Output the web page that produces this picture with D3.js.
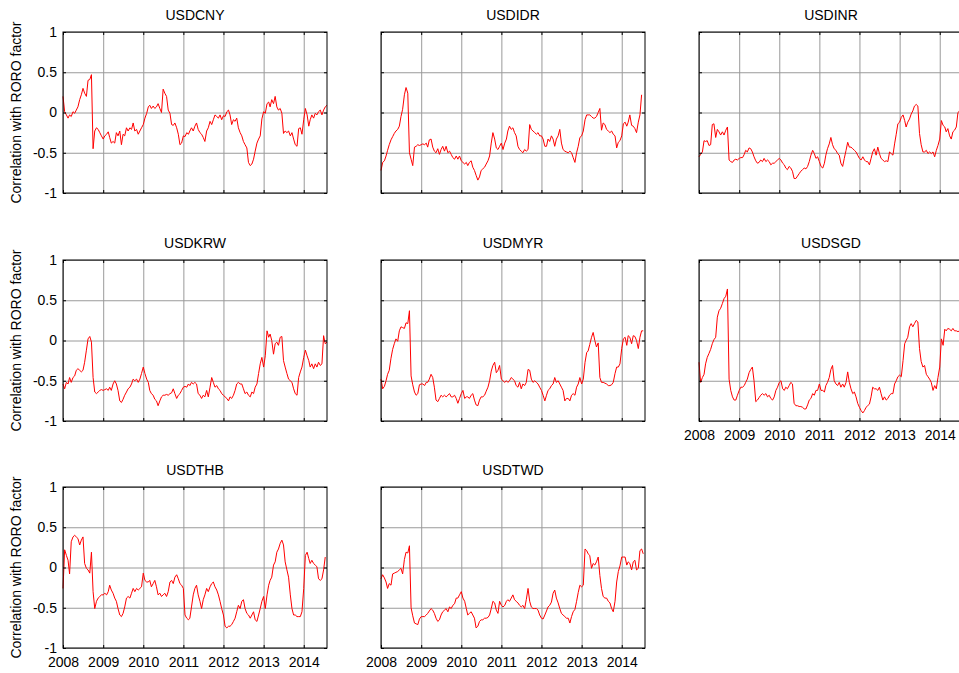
<!DOCTYPE html>
<html>
<head>
<meta charset="utf-8">
<script src="https://cdn.jsdelivr.net/npm/d3@7"></script>
<style>
  body { margin: 0; background: #fff; }
  svg { display: block; }
  text { font-family: Arial, "Liberation Sans", Helvetica, sans-serif; fill: #000; }
</style>
</head>
<body>
<svg id="chart" width="959" height="673"></svg>
<script>
// Rolling correlation of Asian USD crosses with the risk-on/risk-off factor,
// sampled on the 1st and 16th of every month from January 2008.
const currencies = ["USDCNY", "USDIDR", "USDINR", "USDKRW", "USDMYR", "USDSGD", "USDTHB", "USDTWD"];
const yearTicks = [2008, 2009, 2010, 2011, 2012, 2013, 2014];
const corrTicks = [-1, -0.5, 0, 0.5, 1];
const corrTickLabels = ["-1", "-0.5", "0", "0.5", "1"];
const yAxisTitle = "Correlation with RORO factor";

const usdcny = [
  0.20, 0.01, -0.03, -0.07, -0.03, -0.05, 0.01, -0.01, 0.03, 0.07,
  0.16, 0.22, 0.30, 0.24, 0.20, 0.40, 0.41, 0.47, -0.45, -0.23,
  -0.19, -0.21, -0.25, -0.29, -0.33, -0.29, -0.27, -0.24, -0.31, -0.38,
  -0.36, -0.38, -0.25, -0.29, -0.23, -0.40, -0.27, -0.29, -0.19, -0.23,
  -0.19, -0.21, -0.13, -0.23, -0.21, -0.27, -0.23, -0.19, -0.15, -0.07,
  -0.01, 0.07, 0.09, 0.05, 0.08, 0.05, 0.07, 0.11, 0.05, 0.00,
  0.29, 0.24, 0.20, 0.03, -0.01, -0.15, -0.16, -0.13, -0.19, -0.27,
  -0.40, -0.38, -0.29, -0.30, -0.25, -0.27, -0.23, -0.19, -0.23, -0.17,
  -0.13, -0.21, -0.25, -0.27, -0.31, -0.36, -0.23, -0.19, -0.11, -0.15,
  -0.09, -0.03, -0.05, -0.07, -0.03, -0.09, -0.04, -0.05, 0.01, 0.03,
  -0.03, -0.15, -0.09, -0.11, -0.07, -0.19, -0.25, -0.29, -0.36, -0.40,
  -0.44, -0.62, -0.66, -0.64, -0.58, -0.48, -0.38, -0.33, -0.29, -0.08,
  0.01, -0.01, 0.11, 0.13, 0.07, 0.16, 0.11, 0.20, 0.07, 0.03,
  0.05, -0.01, -0.26, -0.23, -0.25, -0.23, -0.29, -0.25, -0.33, -0.40,
  -0.42, -0.20, -0.19, -0.27, -0.09, 0.05, -0.03, -0.17, -0.09, -0.03,
  -0.07, -0.01, -0.03, 0.01, 0.03, -0.03, 0.03, 0.07, 0.09
];

const usdidr = [
  -0.72, -0.62, -0.60, -0.54, -0.47, -0.40, -0.34, -0.30, -0.26, -0.23,
  -0.21, -0.17, -0.05, 0.04, 0.22, 0.31, 0.24, -0.50, -0.58, -0.66,
  -0.43, -0.42, -0.40, -0.41, -0.40, -0.39, -0.40, -0.38, -0.43, -0.34,
  -0.33, -0.43, -0.48, -0.50, -0.45, -0.52, -0.46, -0.42, -0.48, -0.42,
  -0.50, -0.48, -0.52, -0.56, -0.58, -0.54, -0.58, -0.54, -0.60, -0.62,
  -0.64, -0.62, -0.66, -0.62, -0.60, -0.68, -0.72, -0.78, -0.84, -0.80,
  -0.72, -0.70, -0.68, -0.64, -0.60, -0.54, -0.38, -0.25, -0.33, -0.44,
  -0.46, -0.42, -0.38, -0.46, -0.38, -0.33, -0.23, -0.17, -0.21, -0.19,
  -0.25, -0.29, -0.42, -0.46, -0.48, -0.50, -0.46, -0.48, -0.46, -0.15,
  -0.21, -0.23, -0.25, -0.27, -0.25, -0.29, -0.29, -0.33, -0.42, -0.42,
  -0.33, -0.36, -0.29, -0.33, -0.42, -0.33, -0.29, -0.21, -0.38, -0.46,
  -0.48, -0.49, -0.50, -0.48, -0.50, -0.56, -0.62, -0.50, -0.42, -0.31,
  -0.29, -0.23, -0.09, -0.03, -0.03, -0.03, -0.05, -0.07, -0.07, -0.05,
  0.00, 0.05, -0.22, -0.13, -0.15, -0.21, -0.23, -0.25, -0.23, -0.27,
  -0.29, -0.44, -0.37, -0.35, -0.29, -0.14, -0.12, -0.17, -0.12, -0.03,
  -0.16, -0.17, -0.20, -0.25, -0.12, -0.03, 0.22
];

const usdinr = [
  -0.55, -0.52, -0.49, -0.35, -0.36, -0.35, -0.41, -0.40, -0.15, -0.14,
  -0.31, -0.21, -0.24, -0.28, -0.24, -0.28, -0.22, -0.18, -0.59, -0.61,
  -0.62, -0.59, -0.58, -0.59, -0.57, -0.56, -0.56, -0.52, -0.47, -0.49,
  -0.44, -0.45, -0.49, -0.55, -0.60, -0.63, -0.62, -0.59, -0.61, -0.57,
  -0.61, -0.59, -0.61, -0.65, -0.63, -0.63, -0.61, -0.59, -0.57, -0.59,
  -0.63, -0.65, -0.69, -0.71, -0.67, -0.69, -0.73, -0.82, -0.82, -0.79,
  -0.76, -0.73, -0.71, -0.69, -0.70, -0.67, -0.61, -0.53, -0.47, -0.51,
  -0.57, -0.55, -0.61, -0.67, -0.69, -0.63, -0.53, -0.45, -0.39, -0.31,
  -0.40, -0.45, -0.47, -0.51, -0.53, -0.63, -0.67, -0.57, -0.47, -0.37,
  -0.43, -0.43, -0.45, -0.47, -0.49, -0.53, -0.57, -0.59, -0.55, -0.59,
  -0.61, -0.61, -0.65, -0.57, -0.49, -0.45, -0.53, -0.43, -0.51, -0.57,
  -0.59, -0.61, -0.60, -0.61, -0.49, -0.51, -0.53, -0.39, -0.27, -0.14,
  -0.12, -0.06, -0.03, -0.10, -0.18, -0.12, -0.08, -0.02, 0.02, 0.08,
  0.10, 0.08, -0.26, -0.40, -0.49, -0.49, -0.47, -0.51, -0.49, -0.51,
  -0.49, -0.55, -0.47, -0.41, -0.33, -0.10, -0.16, -0.18, -0.24, -0.20,
  -0.29, -0.33, -0.24, -0.22, -0.18, 0.00, 0.02, 0.00, 0.01
];

const usdkrw = [
  -0.54, -0.60, -0.52, -0.54, -0.46, -0.52, -0.46, -0.44, -0.37, -0.35,
  -0.37, -0.39, -0.37, -0.27, -0.12, 0.02, 0.05, -0.02, -0.46, -0.64,
  -0.66, -0.64, -0.62, -0.61, -0.62, -0.61, -0.60, -0.62, -0.58, -0.62,
  -0.54, -0.50, -0.54, -0.62, -0.75, -0.77, -0.73, -0.68, -0.64, -0.60,
  -0.58, -0.54, -0.48, -0.50, -0.48, -0.52, -0.48, -0.41, -0.33, -0.41,
  -0.48, -0.52, -0.62, -0.66, -0.68, -0.73, -0.75, -0.81, -0.75, -0.70,
  -0.68, -0.68, -0.67, -0.68, -0.66, -0.65, -0.60, -0.66, -0.72, -0.68,
  -0.66, -0.62, -0.58, -0.57, -0.58, -0.54, -0.56, -0.52, -0.54, -0.52,
  -0.54, -0.66, -0.68, -0.72, -0.68, -0.70, -0.62, -0.70, -0.58, -0.46,
  -0.52, -0.58, -0.56, -0.60, -0.62, -0.66, -0.68, -0.70, -0.72, -0.75,
  -0.70, -0.72, -0.68, -0.62, -0.54, -0.52, -0.54, -0.54, -0.60, -0.66,
  -0.64, -0.68, -0.70, -0.64, -0.66, -0.58, -0.54, -0.41, -0.29, -0.21,
  -0.33, -0.19, 0.12, 0.04, 0.08, 0.00, -0.17, -0.04, -0.02, -0.06,
  0.04, 0.05, -0.25, -0.33, -0.41, -0.48, -0.50, -0.52, -0.60, -0.66,
  -0.68, -0.46, -0.39, -0.33, -0.21, -0.12, -0.19, -0.25, -0.33, -0.29,
  -0.35, -0.29, -0.33, -0.27, -0.31, -0.29, 0.06, -0.04, -0.02
];

const usdmyr = [
  -0.48, -0.60, -0.57, -0.50, -0.42, -0.37, -0.22, -0.11, -0.04, 0.02,
  -0.01, 0.12, 0.17, 0.16, 0.15, 0.22, 0.21, 0.37, -0.44, -0.55,
  -0.64, -0.68, -0.66, -0.55, -0.54, -0.54, -0.56, -0.52, -0.52, -0.48,
  -0.42, -0.46, -0.58, -0.74, -0.76, -0.72, -0.68, -0.70, -0.68, -0.70,
  -0.68, -0.66, -0.70, -0.70, -0.68, -0.72, -0.78, -0.72, -0.66, -0.62,
  -0.72, -0.70, -0.70, -0.72, -0.68, -0.66, -0.74, -0.80, -0.81, -0.74,
  -0.70, -0.70, -0.68, -0.63, -0.58, -0.50, -0.38, -0.31, -0.27, -0.40,
  -0.37, -0.31, -0.48, -0.50, -0.52, -0.50, -0.52, -0.50, -0.46, -0.48,
  -0.50, -0.56, -0.58, -0.52, -0.60, -0.54, -0.56, -0.52, -0.36, -0.37,
  -0.48, -0.52, -0.50, -0.52, -0.54, -0.58, -0.62, -0.68, -0.75, -0.68,
  -0.62, -0.60, -0.56, -0.54, -0.46, -0.52, -0.50, -0.54, -0.58, -0.62,
  -0.75, -0.72, -0.72, -0.75, -0.68, -0.66, -0.68, -0.58, -0.54, -0.46,
  -0.54, -0.48, -0.27, -0.15, -0.13, -0.05, 0.04, 0.10, 0.00, -0.08,
  -0.03, -0.46, -0.52, -0.52, -0.53, -0.54, -0.56, -0.56, -0.55, -0.52,
  -0.41, -0.33, -0.33, -0.29, -0.10, 0.02, 0.04, -0.06, 0.06, 0.04,
  -0.04, 0.06, 0.05, 0.00, -0.10, 0.04, 0.12, 0.12
];

const usdsgd = [
  -0.27, -0.52, -0.46, -0.42, -0.29, -0.21, -0.16, -0.11, -0.04, 0.01,
  0.04, 0.29, 0.37, 0.40, 0.46, 0.52, 0.55, 0.64, -0.48, -0.62,
  -0.70, -0.74, -0.74, -0.68, -0.62, -0.58, -0.58, -0.56, -0.52, -0.48,
  -0.40, -0.36, -0.33, -0.50, -0.76, -0.74, -0.71, -0.68, -0.66, -0.68,
  -0.66, -0.70, -0.68, -0.72, -0.74, -0.70, -0.62, -0.58, -0.52, -0.50,
  -0.60, -0.62, -0.58, -0.60, -0.56, -0.52, -0.54, -0.78, -0.81, -0.81,
  -0.82, -0.82, -0.83, -0.85, -0.85, -0.80, -0.74, -0.72, -0.66, -0.68,
  -0.62, -0.62, -0.54, -0.62, -0.62, -0.64, -0.56, -0.52, -0.46, -0.36,
  -0.31, -0.50, -0.54, -0.56, -0.52, -0.58, -0.54, -0.58, -0.52, -0.39,
  -0.52, -0.60, -0.66, -0.64, -0.70, -0.78, -0.83, -0.87, -0.90, -0.87,
  -0.83, -0.81, -0.79, -0.70, -0.58, -0.60, -0.60, -0.62, -0.58, -0.66,
  -0.74, -0.70, -0.74, -0.72, -0.68, -0.66, -0.66, -0.54, -0.50, -0.45,
  -0.43, -0.45, -0.25, -0.04, 0.00, 0.04, 0.17, 0.21, 0.17, 0.21,
  0.25, 0.23, -0.10, -0.26, -0.33, -0.31, -0.42, -0.45, -0.48, -0.52,
  -0.62, -0.56, -0.60, -0.46, -0.33, 0.02, -0.06, 0.14, 0.12, 0.15,
  0.14, 0.12, 0.15, 0.12, 0.12, 0.11, 0.12, 0.12, 0.13
];

const usdthb = [
  -0.26, 0.22, 0.15, 0.09, -0.08, 0.32, 0.38, 0.40, 0.38, 0.36,
  0.28, 0.34, 0.38, 0.05, -0.01, -0.03, -0.07, 0.19, -0.30, -0.51,
  -0.42, -0.38, -0.36, -0.34, -0.34, -0.32, -0.34, -0.30, -0.22, -0.28,
  -0.32, -0.38, -0.42, -0.51, -0.59, -0.61, -0.57, -0.49, -0.38, -0.36,
  -0.38, -0.32, -0.26, -0.30, -0.26, -0.28, -0.26, -0.24, -0.07, -0.16,
  -0.18, -0.18, -0.16, -0.24, -0.20, -0.16, -0.24, -0.34, -0.32, -0.36,
  -0.34, -0.32, -0.36, -0.30, -0.18, -0.16, -0.20, -0.12, -0.09, -0.14,
  -0.20, -0.22, -0.26, -0.59, -0.63, -0.65, -0.63, -0.49, -0.34, -0.26,
  -0.22, -0.34, -0.42, -0.51, -0.40, -0.34, -0.26, -0.30, -0.24, -0.20,
  -0.18, -0.24, -0.28, -0.34, -0.42, -0.51, -0.59, -0.73, -0.75, -0.73,
  -0.73, -0.71, -0.67, -0.63, -0.55, -0.47, -0.51, -0.42, -0.40, -0.51,
  -0.57, -0.59, -0.63, -0.59, -0.55, -0.65, -0.67, -0.59, -0.51, -0.42,
  -0.36, -0.51, -0.34, -0.22, -0.16, -0.12, 0.03, 0.07, 0.19, 0.23,
  0.30, 0.34, 0.28, 0.07, -0.03, -0.12, -0.34, -0.51, -0.59, -0.59,
  -0.61, -0.61, -0.61, -0.55, -0.26, 0.15, 0.19, 0.11, 0.05, 0.09,
  0.05, 0.03, 0.01, -0.14, -0.16, -0.14, -0.03, 0.13
];

const usdtwd = [
  -0.14, -0.09, -0.13, -0.18, -0.26, -0.20, -0.22, -0.08, -0.07, -0.06,
  -0.05, -0.03, -0.01, -0.08, 0.10, 0.19, 0.18, 0.27, -0.50, -0.60,
  -0.69, -0.70, -0.71, -0.64, -0.61, -0.61, -0.61, -0.59, -0.57, -0.54,
  -0.51, -0.53, -0.57, -0.63, -0.67, -0.65, -0.59, -0.55, -0.53, -0.51,
  -0.55, -0.49, -0.51, -0.47, -0.45, -0.38, -0.38, -0.34, -0.30, -0.38,
  -0.42, -0.51, -0.59, -0.57, -0.55, -0.59, -0.63, -0.75, -0.73, -0.67,
  -0.65, -0.65, -0.63, -0.63, -0.62, -0.59, -0.51, -0.42, -0.44, -0.53,
  -0.57, -0.42, -0.47, -0.49, -0.47, -0.42, -0.40, -0.42, -0.38, -0.34,
  -0.40, -0.42, -0.44, -0.47, -0.49, -0.47, -0.51, -0.40, -0.26, -0.42,
  -0.49, -0.51, -0.51, -0.51, -0.53, -0.59, -0.63, -0.64, -0.59, -0.54,
  -0.49, -0.47, -0.43, -0.32, -0.28, -0.38, -0.44, -0.51, -0.57, -0.59,
  -0.61, -0.63, -0.63, -0.69, -0.61, -0.55, -0.52, -0.42, -0.31, -0.22,
  -0.24, -0.22, 0.23, 0.21, 0.17, 0.15, -0.01, 0.05, 0.03, 0.07,
  0.13, -0.10, -0.26, -0.36, -0.38, -0.38, -0.42, -0.44, -0.51, -0.55,
  -0.42, -0.18, -0.05, 0.02, 0.13, 0.13, 0.13, 0.03, 0.07, 0.05,
  -0.03, 0.07, 0.09, -0.03, -0.01, 0.21, 0.23, 0.17
];

const seriesByPair = {
  USDCNY: usdcny, USDIDR: usdidr, USDINR: usdinr, USDKRW: usdkrw,
  USDMYR: usdmyr, USDSGD: usdsgd, USDTHB: usdthb, USDTWD: usdtwd
};

// Observation i falls on the 1st (even i) or 16th (odd i) of month floor(i/2) after Jan 2008.
const obsDate = i => new Date(2008, Math.floor(i / 2), i % 2 ? 16 : 1);

// Layout: 3x3 grid of small multiples (last cell empty).
const colLeft = [63, 381, 699];
const rowTop = [32, 260, 487];
const panelW = 264, panelH = 161;
const fontSize = 14;

const svg = d3.select("#chart");

const x = d3.scaleTime()
  .domain([new Date(2008, 0, 1), new Date(2014, 7, 1)])
  .range([0, panelW]);
const y = d3.scaleLinear().domain([-1, 1]).range([panelH, 0]);

const yearDates = yearTicks.map(yr => new Date(yr, 0, 1));

const line = d3.line()
  .x((d, i) => x(obsDate(i)))
  .y(d => y(d));

function styleAxis(g) {
  g.select(".domain").remove();
  g.selectAll(".tick line").attr("stroke", "#000").attr("stroke-width", 1);
  g.selectAll(".tick text").attr("font-size", fontSize).attr("font-family", null).attr("fill", "#000");
}

currencies.forEach((pair, k) => {
  const col = k % 3, row = Math.floor(k / 3);
  const g = svg.append("g").attr("transform", `translate(${colLeft[col]},${rowTop[row]})`);
  const showX = (k >= 5);
  const showY = (col === 0);

  // grid
  g.append("g")
    .attr("transform", `translate(0,${panelH})`)
    .call(d3.axisBottom(x).tickValues(yearDates).tickSize(-panelH).tickFormat(""))
    .call(a => {
      a.select(".domain").remove();
      a.selectAll(".tick line").attr("stroke", "#9a9a9a").attr("stroke-width", 1);
    });
  g.append("g")
    .call(d3.axisLeft(y).tickValues(corrTicks).tickSize(-panelW).tickFormat(""))
    .call(a => {
      a.select(".domain").remove();
      a.selectAll(".tick line").attr("stroke", "#9a9a9a").attr("stroke-width", 1);
    });

  // series
  g.append("path")
    .datum(seriesByPair[pair])
    .attr("d", line)
    .attr("fill", "none")
    .attr("stroke", "#ff0000")
    .attr("stroke-width", 1)
    .attr("stroke-linejoin", "round");

  // axes box
  g.append("rect")
    .attr("x", 0).attr("y", 0)
    .attr("width", panelW).attr("height", panelH)
    .attr("fill", "none").attr("stroke", "#000").attr("stroke-width", 1);

  // inward ticks on all four sides
  g.append("g")
    .attr("transform", `translate(0,${panelH})`)
    .call(d3.axisBottom(x).tickValues(yearDates).tickSize(-3).tickPadding(9)
      .tickFormat(showX ? d3.timeFormat("%Y") : ""))
    .call(styleAxis);
  g.append("g")
    .call(d3.axisTop(x).tickValues(yearDates).tickSize(-3).tickFormat(""))
    .call(styleAxis);
  g.append("g")
    .call(d3.axisLeft(y).tickValues(corrTicks).tickSize(-3).tickPadding(6)
      .tickFormat((d, i) => showY ? corrTickLabels[i] : ""))
    .call(styleAxis);
  g.append("g")
    .attr("transform", `translate(${panelW},0)`)
    .call(d3.axisRight(y).tickValues(corrTicks).tickSize(-3).tickFormat(""))
    .call(styleAxis);

  // title
  g.append("text")
    .attr("x", panelW / 2)
    .attr("y", -12.5)
    .attr("text-anchor", "middle")
    .attr("font-size", fontSize)
    .text(pair);

  if (showY) {
    svg.append("text")
      .attr("transform", `translate(21,${rowTop[row] + panelH / 2}) rotate(-90)`)
      .attr("text-anchor", "middle")
      .attr("font-size", fontSize)
      .text(yAxisTitle);
  }
});
</script>
</body>
</html>
